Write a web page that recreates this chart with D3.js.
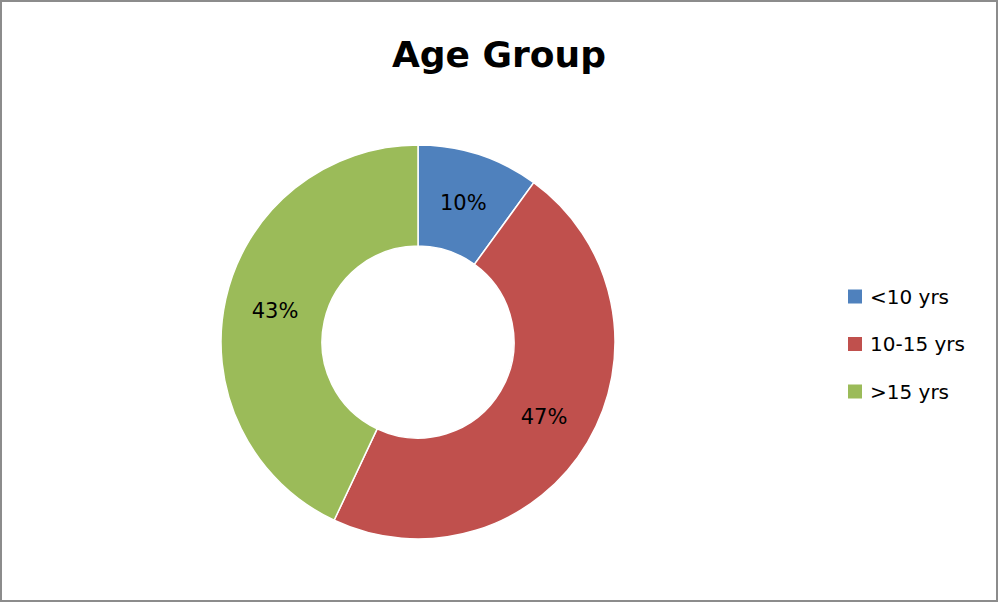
<!DOCTYPE html>
<html><head><meta charset="utf-8">
<script src="https://cdn.jsdelivr.net/npm/d3@7"></script>
<style>html,body{margin:0;padding:0;background:#fff;}svg{display:block;}</style>
</head><body>
<svg id="chart" width="1000" height="603"></svg>
<script>
const categories = ["<10 yrs", "10-15 yrs", ">15 yrs"];
const values = [10, 47, 43];
const colors = ["#4F81BD", "#C0504D", "#9BBB59"];
const title = "Age Group";

const FONT = "'DejaVu Sans', 'Liberation Sans', sans-serif";
const svg = d3.select("#chart");
const W = 1000, H = 603;
svg.append("rect").attr("x",1).attr("y",1).attr("width",W-4).attr("height",H-3)
  .attr("fill","#fff").attr("stroke","#8c8c8c").attr("stroke-width",2);

svg.append("text").attr("x",499).attr("y",67).attr("text-anchor","middle")
  .attr("font-family",FONT).attr("font-weight","bold")
  .attr("font-size",36).attr("fill","#000").text(title);

const cx = 418, cy = 342, R = 197, r = 96;
const pie = d3.pie().sort(null).value(d => d);
const arc = d3.arc().innerRadius(r).outerRadius(R);
const labelArc = d3.arc().innerRadius((R+r)/2).outerRadius((R+r)/2);
const g = svg.append("g").attr("transform",`translate(${cx},${cy})`);
const arcs = pie(values);
g.selectAll("path").data(arcs).enter().append("path")
  .attr("d",arc).attr("fill",(d,i)=>colors[i]).attr("stroke","#fff").attr("stroke-width",1.5);
const total = d3.sum(values);
g.selectAll("text").data(arcs).enter().append("text")
  .attr("transform",d=>`translate(${labelArc.centroid(d)})`)
  .attr("text-anchor","middle").attr("dy","0.36em")
  .attr("font-family",FONT).attr("font-size",21)
  .attr("fill","#000").text(d=>Math.round(d.data/total*100)+"%");

const leg = svg.append("g");
categories.forEach((c,i)=>{
  const y = 296.5 + i*47.5;
  leg.append("rect").attr("x",848).attr("y",y-7).attr("width",14).attr("height",14).attr("fill",colors[i]);
  leg.append("text").attr("x",870).attr("y",y).attr("dy","0.36em")
    .attr("font-family",FONT).attr("font-size",20)
    .attr("fill","#000").text(c);
});
</script>
</body></html>
